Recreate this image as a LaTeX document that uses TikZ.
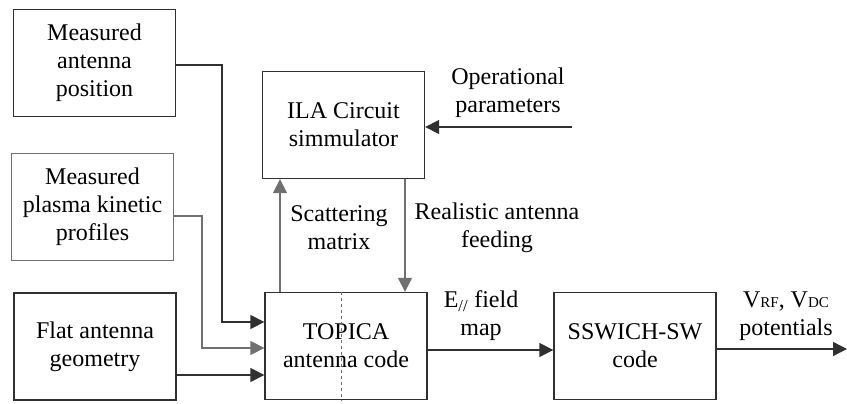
\documentclass[tikz,border=0pt]{standalone}
\usepackage{fontspec}
\setmainfont{Liberation Serif}
\usetikzlibrary{arrows.meta,calc}
\definecolor{dk}{HTML}{303030}
\definecolor{gr}{HTML}{707070}
\begin{document}
\begin{tikzpicture}[x=1pt,y=-1pt,
  box/.style={draw=dk,line width=1.3pt,minimum width=162pt,minimum height=107pt,align=center,inner sep=0pt,font=\fontsize{24}{28}\selectfont},
  lbl/.style={align=center,font=\fontsize{24}{28}\selectfont,inner sep=0pt},
  conn/.style={draw=dk,line width=1.3pt},
  arr/.style={conn,-{Triangle[length=14pt,width=14pt]}}]
\useasboundingbox (0,0) rectangle (847,404);
\node[box] (b1) at (94.5,63) {Measured\\antenna\\position};
\node[box,draw=gr] (b2) at (92.5,207) {Measured\\plasma kinetic\\profiles};
\node[box] (b3) at (95,346.5) {Flat antenna\\geometry};
\node[box] (ila) at (343.5,125) {ILA Circuit\\simmulator};
\node[box] (top) at (346,346) {TOPICA\\antenna code};
\node[box] (ssw) at (635,346) {SSWICH-SW\\code};
\draw[gr,dashed,line width=1pt] (top.north -| 341,0) -- (top.south -| 341,0);
% inputs
\coordinate (c1) at (222,322);
\coordinate (c2) at (202,348);
\draw[arr] ($(b1.east)+(0,2)$) -| (c1) -- ($(top.west)+(0,-24)$);
\draw[arr,draw=gr] ($(b2.east)+(0,9)$) -| (c2) -- ($(top.west)+(0,2)$);
\draw[arr] ($(b3.east)+(0,28.5)$) -- ($(top.west)+(0,29)$);
% ILA loop
\draw[arr,draw=gr] (top.north -| 280,0) -- (ila.south -| 280,0);
\draw[arr,draw=gr] (ila.south -| 405,0) -- (top.north -| 405,0);
\coordinate (op) at (572,127);
\draw[arr] (op) -- (op -| ila.east);
\node[lbl] (opl) at (508,93) {Operational\\parameters};
\node[lbl] (scl) at (339,228) {Scattering\\matrix};
\node[lbl] (rel) at (497,228) {Realistic antenna\\feeding};
% outputs
\draw[arr] ($(top.east)+(0,4)$) -- ($(ssw.west)+(0,4)$);
\node[lbl] (el) at (481,316) {E\textsubscript{//} field\\map};
\coordinate (out) at (847,349);
\draw[arr] ($(ssw.east)+(0,3)$) -- (out);
\node[lbl] (vl) at (786,316) {V{\fontsize{15}{15}\selectfont RF}, V{\fontsize{15}{15}\selectfont DC}\\potentials};
\end{tikzpicture}
\end{document}
